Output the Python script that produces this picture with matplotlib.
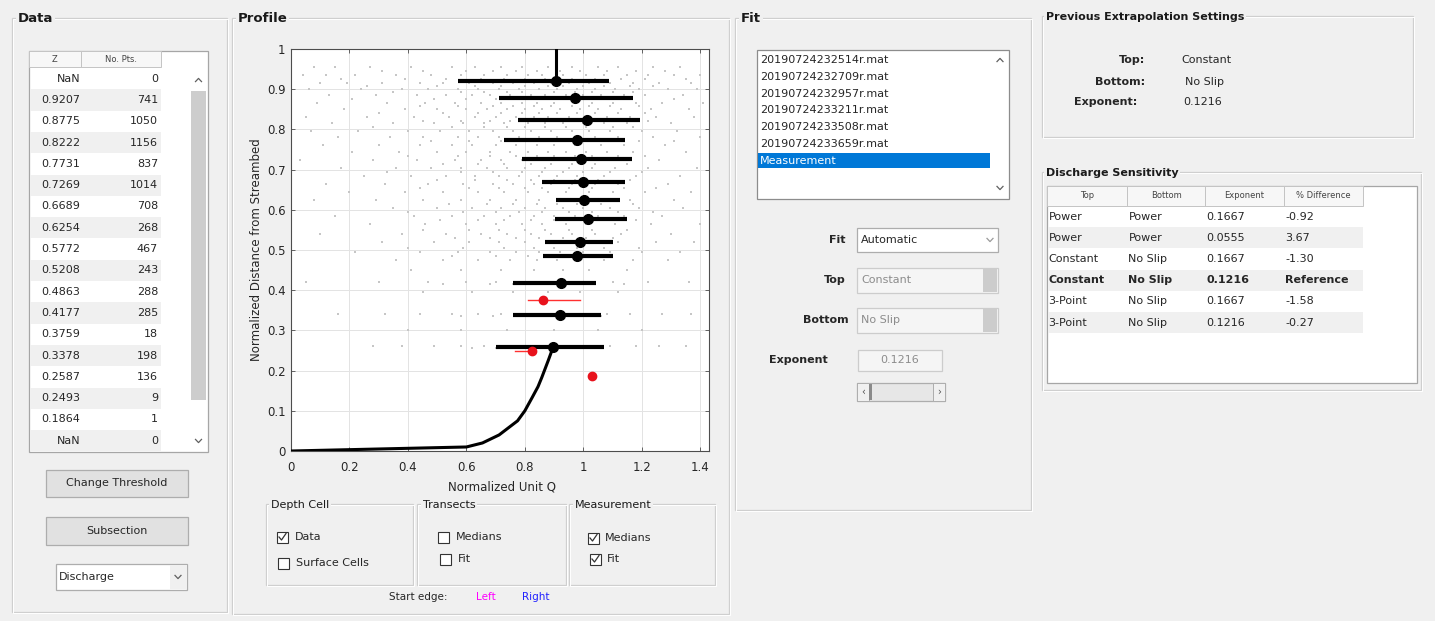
import numpy as np
import matplotlib
matplotlib.use("Agg")
import matplotlib.pyplot as plt
from matplotlib.patches import Rectangle

plt.rcParams["font.family"] = ["DejaVu Sans"]

# ---- values ----
z_cell = [0.9207, 0.8775, 0.8222, 0.7731, 0.7269, 0.6689, 0.6254, 0.5772,
          0.5208, 0.4863, 0.4177, 0.3759, 0.3378, 0.2587, 0.2493, 0.1864]
n_pts = [741, 1050, 1156, 837, 1014, 708, 268, 467, 243, 288, 285, 18, 198, 136, 9, 1]
med_q = [0.908, 0.973, 1.011, 0.980, 0.991, 0.999, 1.001, 1.017,
         0.988, 0.977, 0.925, 0.863, 0.920, 0.897, 0.826, 1.030]
q_lo = [0.572, 0.712, 0.777, 0.728, 0.789, 0.857, 0.908, 0.903,
        0.868, 0.863, 0.758, 0.811, 0.758, 0.700, 0.765, np.nan]
q_hi = [1.087, 1.170, 1.193, 1.142, 1.165, 1.142, 1.127, 1.148,
        1.100, 1.100, 1.045, 0.990, 1.059, 1.070, 0.826, np.nan]
min_pts = 20

# extrapolation fit (top constant, bottom no slip)
fit_top_z = [0.9207, 1.0]
fit_top_q = [0.908, 0.908]
fit_bot_z = [0.0, 0.01, 0.02, 0.04, 0.075, 0.10, 0.133, 0.16, 0.183, 0.225, 0.2587]
fit_bot_q = [0.0, 0.600, 0.655, 0.712, 0.775, 0.800, 0.825, 0.845, 0.858, 0.880, 0.897]

# depth cell data (light grey cloud), rows of normalized unit Q
cloud_z = [0.955, 0.945, 0.935, 0.925, 0.915, 0.907, 0.90, 0.892, 0.885, 0.875,
           0.865, 0.857, 0.85, 0.84, 0.83, 0.822, 0.815, 0.805, 0.795, 0.78,
           0.77, 0.76, 0.745, 0.735, 0.725, 0.715, 0.705, 0.695, 0.685, 0.675,
           0.665, 0.655, 0.645, 0.625, 0.615, 0.605, 0.595, 0.585, 0.575, 0.565,
           0.55, 0.54, 0.53, 0.52, 0.505, 0.495, 0.485, 0.475, 0.45, 0.42,
           0.415, 0.395, 0.34, 0.335, 0.30, 0.26, 0.255]
cloud_q = [
    [0.08, 0.15, 0.27, 0.41, 0.55, 0.63, 0.72, 0.79, 0.88, 0.96, 1.05, 1.12, 1.24, 1.33],
    [0.31, 0.45, 0.60, 0.69, 0.77, 0.84, 0.92, 0.99, 1.08, 1.18, 1.28],
    [0.04, 0.12, 0.22, 0.36, 0.48, 0.58, 0.66, 0.74, 0.81, 0.86, 0.93, 1.01, 1.07, 1.15, 1.22, 1.31, 1.40],
    [0.17, 0.39, 0.53, 0.65, 0.73, 0.80, 0.87, 0.96, 1.04, 1.13, 1.21, 1.35],
    [0.10, 0.19, 0.31, 0.44, 0.52, 0.61, 0.69, 0.76, 0.83, 0.89, 0.95, 1.02, 1.09, 1.17, 1.26, 1.37],
    [0.26, 0.50, 0.63, 0.72, 0.80, 0.88, 0.93, 1.00, 1.07, 1.16, 1.24],
    [0.06, 0.24, 0.38, 0.47, 0.57, 0.64, 0.71, 0.78, 0.85, 0.91, 0.98, 1.04, 1.11, 1.19, 1.29, 1.39],
    [0.35, 0.58, 0.66, 0.74, 0.79, 0.90, 0.97, 1.03, 1.10, 1.17],
    [0.13, 0.29, 0.43, 0.53, 0.62, 0.68, 0.75, 0.82, 0.87, 0.94, 1.00, 1.06, 1.14, 1.21, 1.34],
    [0.21, 0.49, 0.60, 0.70, 0.77, 0.86, 0.93, 0.99, 1.08, 1.16, 1.31],
    [0.09, 0.33, 0.46, 0.56, 0.65, 0.72, 0.79, 0.84, 0.90, 0.97, 1.03, 1.10, 1.18, 1.27, 1.41],
    [0.44, 0.57, 0.69, 0.76, 0.83, 0.89, 0.96, 1.02, 1.09, 1.19],
    [0.18, 0.39, 0.50, 0.60, 0.67, 0.74, 0.80, 0.86, 0.92, 0.99, 1.05, 1.13, 1.23, 1.36],
    [0.30, 0.52, 0.64, 0.72, 0.79, 0.85, 0.91, 0.98, 1.04, 1.12, 1.21],
    [0.05, 0.26, 0.42, 0.54, 0.63, 0.70, 0.77, 0.83, 0.88, 0.95, 1.01, 1.08, 1.16, 1.25, 1.38],
    [0.45, 0.58, 0.68, 0.75, 0.82, 0.90, 0.97, 1.04, 1.11, 1.22],
    [0.14, 0.35, 0.49, 0.59, 0.66, 0.73, 0.81, 0.87, 0.93, 1.00, 1.07, 1.15, 1.30],
    [0.28, 0.55, 0.66, 0.74, 0.80, 0.87, 0.94, 1.01, 1.10, 1.17],
    [0.07, 0.23, 0.40, 0.51, 0.61, 0.69, 0.76, 0.82, 0.89, 0.96, 1.02, 1.09, 1.20, 1.32],
    [0.16, 0.34, 0.45, 0.57, 0.64, 0.71, 0.78, 0.85, 0.91, 0.98, 1.04, 1.12, 1.24, 1.40],
    [0.48, 0.61, 0.72, 0.80, 0.88, 0.95, 1.02, 1.10, 1.19, 1.31],
    [0.11, 0.30, 0.44, 0.55, 0.62, 0.70, 0.77, 0.84, 0.90, 0.97, 1.06, 1.14, 1.28],
    [0.21, 0.37, 0.50, 0.60, 0.68, 0.75, 0.81, 0.88, 0.94, 1.01, 1.08, 1.17, 1.35],
    [0.40, 0.57, 0.68, 0.77, 0.84, 0.90, 0.97, 1.03, 1.12, 1.21],
    [0.03, 0.28, 0.43, 0.56, 0.65, 0.72, 0.79, 0.86, 0.92, 0.99, 1.05, 1.13, 1.26],
    [0.52, 0.64, 0.73, 0.82, 0.89, 0.96, 1.04, 1.15],
    [0.17, 0.36, 0.48, 0.58, 0.67, 0.74, 0.80, 0.87, 0.95, 1.03, 1.11, 1.22, 1.39],
    [0.33, 0.58, 0.69, 0.79, 0.86, 0.93, 1.00, 1.09, 1.20],
    [0.25, 0.41, 0.53, 0.63, 0.71, 0.78, 0.85, 0.91, 0.98, 1.07, 1.18, 1.33],
    [0.50, 0.63, 0.74, 0.82, 0.90, 0.97, 1.05, 1.16],
    [0.12, 0.32, 0.47, 0.59, 0.69, 0.76, 0.83, 0.89, 0.96, 1.04, 1.12, 1.29],
    [0.44, 0.61, 0.71, 0.80, 0.86, 0.95, 1.03, 1.14, 1.25],
    [0.20, 0.39, 0.52, 0.64, 0.73, 0.81, 0.88, 0.94, 1.02, 1.10, 1.21, 1.37],
    [0.08, 0.29, 0.45, 0.58, 0.68, 0.77, 0.85, 0.92, 0.99, 1.08, 1.16, 1.31],
    [0.54, 0.67, 0.76, 0.84, 0.91, 0.98, 1.06, 1.17],
    [0.35, 0.50, 0.62, 0.72, 0.80, 0.87, 0.93, 1.00, 1.09, 1.19, 1.34],
    [0.40, 0.59, 0.70, 0.78, 0.86, 0.95, 1.03, 1.12, 1.24],
    [0.15, 0.42, 0.55, 0.66, 0.75, 0.83, 0.90, 0.97, 1.05, 1.14, 1.27],
    [0.51, 0.64, 0.73, 0.82, 0.90, 0.98, 1.07, 1.18],
    [0.27, 0.46, 0.60, 0.70, 0.79, 0.86, 0.94, 1.01, 1.11, 1.23, 1.40],
    [0.45, 0.61, 0.71, 0.80, 0.87, 0.95, 1.03, 1.15],
    [0.10, 0.38, 0.53, 0.65, 0.74, 0.82, 0.89, 0.96, 1.04, 1.13, 1.30],
    [0.56, 0.68, 0.77, 0.85, 0.93, 1.01, 1.10],
    [0.31, 0.49, 0.61, 0.71, 0.80, 0.88, 0.95, 1.03, 1.12, 1.25, 1.38],
    [0.40, 0.59, 0.73, 0.83, 0.90, 0.98, 1.07, 1.19],
    [0.22, 0.44, 0.57, 0.68, 0.77, 0.85, 0.92, 1.00, 1.09, 1.20, 1.33],
    [0.55, 0.70, 0.81, 0.89, 0.97, 1.06],
    [0.36, 0.52, 0.64, 0.75, 0.84, 0.91, 0.99, 1.07, 1.17, 1.29],
    [0.41, 0.58, 0.72, 0.83, 0.93, 1.02, 1.15],
    [0.05, 0.30, 0.47, 0.60, 0.70, 0.78, 0.85, 0.90, 0.96, 1.03, 1.10, 1.22, 1.36],
    [0.52, 0.68, 0.76, 0.83, 0.92, 1.00, 1.14],
    [0.45, 0.62, 0.76, 0.88, 0.99, 1.12],
    [0.16, 0.32, 0.44, 0.55, 0.64, 0.72, 0.79, 0.86, 0.93, 1.00, 1.08, 1.16, 1.27, 1.37],
    [0.58, 0.69, 0.77, 0.84, 0.91, 0.98, 1.06],
    [0.40, 0.58, 0.74, 0.90, 1.05, 1.20],
    [0.28, 0.38, 0.49, 0.58, 0.66, 0.73, 0.80, 0.87, 0.94, 1.01, 1.09, 1.18, 1.26, 1.35],
    [0.62, 0.70, 0.77, 0.84, 0.91, 0.98, 1.05],
]

transect_files = ["20190724232514r.mat", "20190724232709r.mat", "20190724232957r.mat",
                  "20190724233211r.mat", "20190724233508r.mat", "20190724233659r.mat",
                  "Measurement"]

sens_cols = ["Top", "Bottom", "Exponent", "% Difference"]
sens_top = ["Power", "Power", "Constant", "Constant", "3-Point", "3-Point"]
sens_bottom = ["Power", "Power", "No Slip", "No Slip", "No Slip", "No Slip"]
sens_exp = ["0.1667", "0.0555", "0.1667", "0.1216", "0.1667", "0.1216"]
sens_diff = ["-0.92", "3.67", "-1.30", "Reference", "-1.58", "-0.27"]
ref_row = 3

W, H = 1435, 621
BG = "#f0f0f0"
INK = "#262626"

fig = plt.figure(figsize=(W / 100, H / 100), dpi=100, facecolor=BG)
bg = fig.add_axes([0, 0, 1, 1])
bg.set_xlim(0, W)
bg.set_ylim(H, 0)
bg.axis("off")


def rect(x0, y0, x1, y1, fc="none", ec="none", lw=1.0, z=1):
    bg.add_patch(Rectangle((x0, y0), x1 - x0, y1 - y0, fc=fc, ec=ec, lw=lw, zorder=z))


def txt(x, y, s, size=8, ha="left", color=INK, bold=False, **kw):
    bg.text(x, y, s, fontsize=size, ha=ha, va="center", color=color,
            fontweight="bold" if bold else "normal", **kw)


def frame(x0, y0, x1, y1, title=None, tx=None, size=8, bold=True):
    rect(x0, y0, x1, y1, ec="#cfcfcf", lw=0.9)
    rect(x0 + 1, y0 + 1, x1 + 1, y1 + 1, ec="white", lw=0.7)
    if title:
        bg.text(tx, y0 + 1, title, fontsize=size, ha="left", va="center", color="#1a1a1a",
                fontweight="bold" if bold else "normal", zorder=4,
                bbox=dict(fc=BG, ec="none", pad=1.2))


def chevron(x, y, up, color="#606060"):
    d = -1.6 if up else 1.6
    bg.plot([x - 3, x, x + 3], [y - d, y + d, y - d], color=color, lw=0.9, zorder=5)


def checkbox(x, y, checked):
    rect(x, y - 5.5, x + 11, y + 5.5, fc="white", ec="#333333", lw=0.8, z=3)
    if checked:
        bg.plot([x + 2, x + 4.5, x + 9], [y, y + 3, y - 3.5], color="#333333", lw=0.9, zorder=4)


def button(x0, y0, x1, y1, label):
    rect(x0, y0, x1, y1, fc="#e1e1e1", ec="#adadad", lw=0.9, z=2)
    txt((x0 + x1) / 2, (y0 + y1) / 2, label, ha="center")


# ================= Data panel =================
frame(12, 18, 227, 612, "Data", 18, size=9.5)
rect(29, 51, 208, 452, fc="white", ec="#a6a6a6", lw=0.9, z=2)
rect(29, 51, 81, 67, fc="#f7f7f7", ec="#c4c4c4", lw=0.7, z=2)
rect(81, 51, 161, 67, fc="#f7f7f7", ec="#c4c4c4", lw=0.7, z=2)
txt(55, 59, "Z", size=6, ha="center", color="#444444")
txt(121, 59, "No. Pts.", size=6, ha="center", color="#444444")

z_labels = ["NaN"] + ["%.4f" % z for z in z_cell] + ["NaN"]
n_labels = ["0"] + [str(n) for n in n_pts] + ["0"]
row_h = 21.3
for i, (zl, nl) in enumerate(zip(z_labels, n_labels)):
    top = 68 + i * row_h
    if i % 2 == 1:
        rect(30, top, 161, top + row_h, fc="#f0f0f0", z=2)
    txt(80, top + row_h / 2, zl, ha="right")
    txt(158, top + row_h / 2, nl, ha="right")

# scrollbar
rect(191, 91, 206, 400, fc="#cdcdcd", z=3)
chevron(198.5, 80, True)
chevron(198.5, 441, False)

button(46, 470, 188, 497, "Change Threshold")
button(46, 517, 188, 545, "Subsection")
rect(56, 564, 187, 590, fc="white", ec="#adadad", lw=0.9, z=2)
rect(170, 565, 187, 589, fc="#f0f0f0", z=2)
txt(59, 577, "Discharge")
chevron(178, 577, False)

# ================= Profile panel =================
frame(232, 18, 729, 614, "Profile", 238, size=9.5)

ax = fig.add_axes([291 / W, 1 - 451 / H, 418 / W, 402 / H])
ax.set_facecolor("white")
for z, qs in zip(cloud_z, cloud_q):
    ax.plot(qs, [z] * len(qs), ls="none", marker="s", ms=1.7, mew=0, color="#c6c6c6")

ax.plot(fit_top_q, fit_top_z, color="black", lw=2.2, zorder=4)
ax.plot(fit_bot_q, fit_bot_z, color="black", lw=2.2, zorder=4)

for z, q, lo, hi, n in zip(z_cell, med_q, q_lo, q_hi, n_pts):
    if n >= min_pts:
        ax.plot([lo, hi], [z, z], color="black", lw=3, solid_capstyle="butt", zorder=5)
        ax.plot(q, z, "o", color="black", ms=7, zorder=6)
    else:
        if not np.isnan(lo):
            ax.plot([lo, hi], [z, z], color="#ff3030", lw=1, zorder=5)
        ax.plot(q, z, "o", color="#e8121c", ms=6, zorder=6)

ax.set_xlim(0, 1.43)
ax.set_ylim(0, 1)
ax.set_xticks(np.arange(0, 1.41, 0.2))
ax.set_xticklabels(["0", "0.2", "0.4", "0.6", "0.8", "1", "1.2", "1.4"])
ax.set_yticks(np.arange(0, 1.01, 0.1))
ax.set_yticklabels(["0", "0.1", "0.2", "0.3", "0.4", "0.5", "0.6", "0.7", "0.8", "0.9", "1"])
ax.grid(True, color="#e3e3e3", lw=0.7)
ax.set_axisbelow(True)
ax.tick_params(direction="in", top=True, right=True, length=3, width=0.6,
               labelsize=8.5, labelcolor=INK, color="#4d4d4d")
ax.tick_params(axis="x", pad=7)
ax.tick_params(axis="y", pad=4)
for sp in ax.spines.values():
    sp.set_color("#4d4d4d")
    sp.set_linewidth(0.8)

txt(256, 250, "Normalized Distance from Streambed", size=8.5, ha="center", rotation=90)
txt(502, 487, "Normalized Unit Q", size=8.5, ha="center")

frame(266, 504, 413, 585, "Depth Cell", 271, size=8, bold=False)
frame(417, 504, 566, 585, "Transects", 423, size=8, bold=False)
frame(569, 504, 715, 585, "Measurement", 575, size=8, bold=False)
checkbox(277, 537, True)
txt(295, 537, "Data")
checkbox(278, 563, False)
txt(296, 563, "Surface Cells")
checkbox(438, 537, False)
txt(456, 537, "Medians")
checkbox(440, 559, False)
txt(458, 559, "Fit")
checkbox(588, 538, True)
txt(605, 538, "Medians")
checkbox(590, 559, True)
txt(607, 559, "Fit")
txt(389, 597, "Start edge:", size=7.5)
txt(476, 597, "Left", size=7.5, color="#ff00ff")
txt(522, 597, "Right", size=7.5, color="#2222ff")

# ================= Fit panel =================
frame(735, 18, 1031, 510, "Fit", 741, size=9.5)
rect(757, 50, 1009, 199, fc="white", ec="#8c8c8c", lw=0.9, z=2)
for i, name in enumerate(transect_files):
    y = 60 + i * 16.8
    if name == "Measurement":
        rect(758, y - 7.5, 990, y + 7.5, fc="#0078d7", z=2)
        txt(760, y, name, color="white")
    else:
        txt(760, y, name)
chevron(1000, 60, True)
chevron(1000, 188, False)

txt(846, 240, "Fit", ha="right", bold=True)
rect(857, 228, 998, 252, fc="white", ec="#adadad", lw=0.9, z=2)
txt(861, 240, "Automatic")
chevron(990, 240, False, color="#9a9a9a")

txt(846, 280, "Top", ha="right", bold=True)
rect(857, 268, 998, 293, fc="#f5f5f5", ec="#cccccc", lw=0.9, z=2)
rect(983, 269, 997, 292, fc="#cccccc", z=2)
txt(861, 280, "Constant", color="#8c8c8c")

txt(849, 320, "Bottom", ha="right", bold=True)
rect(857, 308, 998, 333, fc="#f5f5f5", ec="#cccccc", lw=0.9, z=2)
rect(983, 309, 997, 332, fc="#cccccc", z=2)
txt(861, 320, "No Slip", color="#8c8c8c")

txt(828, 360, "Exponent", ha="right", bold=True)
rect(858, 350, 942, 371, fc="#f5f5f5", ec="#cccccc", lw=0.9, z=2)
txt(900, 360, "0.1216", ha="center", color="#8c8c8c")

rect(857, 383, 945, 401, fc="#e7e7e7", ec="#adadad", lw=0.9, z=2)
rect(857, 383, 869, 401, fc="#f0f0f0", ec="#adadad", lw=0.7, z=2)
rect(933, 383, 945, 401, fc="#f0f0f0", ec="#adadad", lw=0.7, z=2)
rect(869, 384, 872, 400, fc="#8a8a8a", z=3)
txt(863, 392, "‹", size=7, ha="center", color="#555555")
txt(939, 392, "›", size=7, ha="center", color="#555555")

# ================= Previous Extrapolation Settings =================
frame(1042, 16, 1413, 137, "Previous Extrapolation Settings", 1046, size=8)
txt(1145, 60, "Top:", ha="right", bold=True)
txt(1181, 60, "Constant")
txt(1145, 82, "Bottom:", ha="right", bold=True)
txt(1185, 82, "No Slip")
txt(1137, 102, "Exponent:", ha="right", bold=True)
txt(1183, 102, "0.1216")

# ================= Discharge Sensitivity =================
frame(1042, 172, 1421, 390, "Discharge Sensitivity", 1046, size=8)
rect(1047, 186, 1417, 383, fc="white", ec="#a6a6a6", lw=0.9, z=2)
col_x = [1047, 1127, 1205, 1284, 1363]
for j, name in enumerate(sens_cols):
    rect(col_x[j], 186, col_x[j + 1], 206, fc="#f7f7f7", ec="#c4c4c4", lw=0.7, z=2)
    txt((col_x[j] + col_x[j + 1]) / 2, 196, name, size=6, ha="center", color="#444444")
for i, row in enumerate(zip(sens_top, sens_bottom, sens_exp, sens_diff)):
    top = 206 + i * 21.2
    if i % 2 == 1:
        rect(1048, top, 1363, top + 21.2, fc="#f0f0f0", z=2)
    for j, val in enumerate(row):
        txt(col_x[j] + 1.5, top + 10.6, val, bold=(i == ref_row))

fig.savefig("out.png", dpi=100, facecolor=BG)
